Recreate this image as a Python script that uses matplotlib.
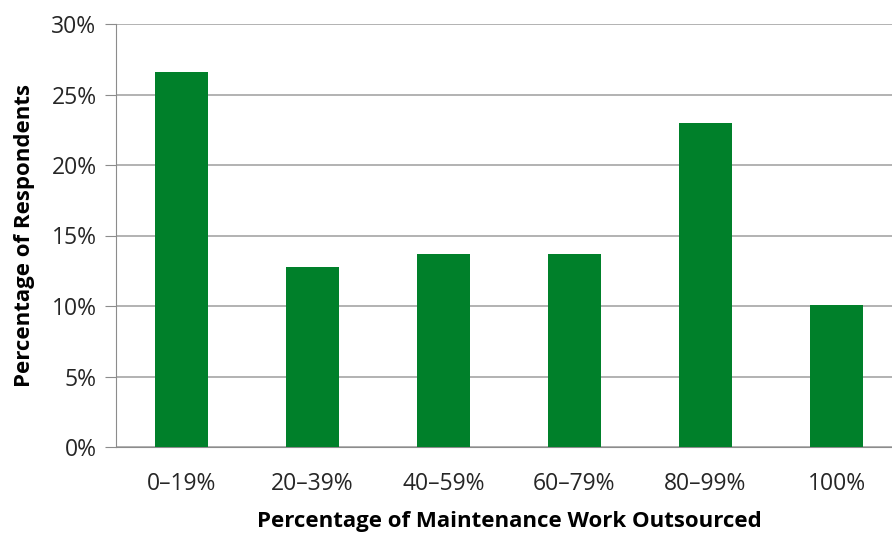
import matplotlib.pyplot as plt
from matplotlib.ticker import PercentFormatter

# bins of outsourced maintenance work, share of respondents (%)
categories = ['0–19%', '20–39%', '40–59%', '60–79%', '80–99%', '100%']
respondents = [26.6, 12.8, 13.7, 13.7, 23.0, 10.1]

plt.rcParams['font.family'] = ['Open Sans', 'DejaVu Sans']

fig = plt.figure(figsize=(8.92, 5.34), dpi=100)
# axes run slightly off the right edge, like the cropped original
ax = fig.add_axes([116 / 892, 1 - 447 / 534, 786 / 892, 423 / 534])

x = range(len(categories))
ax.bar(x, respondents, width=0.4, color='#00802A', zorder=3)

ax.set_xlim(-0.5, 5.5)
ax.set_ylim(0, 30)
ax.set_yticks(range(0, 31, 5))
ax.yaxis.set_major_formatter(PercentFormatter(decimals=0))
ax.set_xticks(list(x))
ax.set_xticklabels(categories)

ax.grid(axis='y', color='#A6A6A6', linewidth=1.2, zorder=0)
for s in ['top', 'right']:
    ax.spines[s].set_visible(False)
ax.spines['left'].set_color('#8C8C8C')
ax.spines['bottom'].set_color('#8C8C8C')
ax.tick_params(axis='y', length=8, color='#8C8C8C', labelsize=16.5, labelcolor='#262626', pad=6)
ax.tick_params(axis='x', length=0, labelsize=16.5, labelcolor='#262626', pad=18)

ax.set_xlabel('Percentage of Maintenance Work Outsourced', fontsize=16,
              fontweight='bold', labelpad=11)
ax.set_ylabel('Percentage of Respondents', fontsize=16, fontweight='bold', labelpad=12)

fig.savefig('out.png', dpi=100)
